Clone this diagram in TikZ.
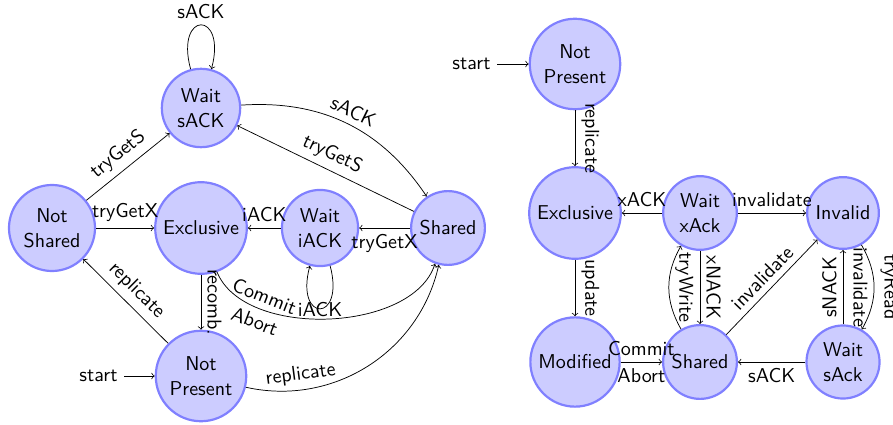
\documentclass[tikz,border=0pt]{standalone}
\usepackage{fontspec}
\usetikzlibrary{arrows}
\begin{document}
\begin{tikzpicture}[x=0.5464pt, y=-0.5464pt,
  font=\fontsize{10.95}{13.6}\selectfont\sffamily,
  fsm/.style={circle, draw=blue!50, very thick, fill=blue!20, align=center, inner sep=.3333em},
  trans/.style={->},
  vlab/.style={midway, anchor=south, rotate=-90},
  vlabin/.style={midway, anchor=north, rotate=-90},
  vlabup/.style={midway, anchor=south, rotate=90}]
\useasboundingbox (0,0) rectangle (893,425);

% ---- left automaton ----
\node[fsm] (NS) at (52,228)  {Not\\Shared};
\node[fsm] (WS) at (201,108) {Wait\\sACK};
\node[fsm] (EX) at (201,228) {Exclusive};
\node[fsm] (WI) at (320,228) {Wait\\iACK};
\node[fsm] (SH) at (448,228) {Shared};
\node[fsm] (NP) at (201,376) {Not\\Present};
\node[anchor=east] (st1) at (124,376) {start};

\draw[trans] (st1) -- (NP);
\draw[trans] (NS) -- node[sloped, above] {tryGetS} (WS);
\draw[trans] (NS) -- node[above] {tryGetX} (EX);
\draw[trans] (WS) to[loop above, looseness=7.5] node[above] {sACK} (WS);
\draw[trans] (WS) to[bend left=30] node[sloped, above] {sACK} (SH);
\draw[trans] (SH) -- node[sloped, above] {tryGetS} (WS);
\draw[trans] (WI) -- node[above] {iACK} (EX);
\draw[trans] (SH) -- node[below] {tryGetX} (WI);
\draw[trans] (WI) to[loop below, looseness=7.5, min distance=2mm]
  node[below, inner sep=1pt, yshift=4.5pt] {iACK} (WI);
\draw[trans] (EX) -- node[vlab] {recomb.} (NP);
\draw[trans] (NP) -- node[sloped, above] {replicate} (NS);
\draw[trans] (NP) to[bend right=45] node[sloped, above, pos=0.22] {replicate} (SH);
\draw[trans] (EX) to[bend right=70, looseness=0.85]
  node[sloped, above, pos=0.25] {Commit}
  node[sloped, below, pos=0.25] {Abort} (SH);

% ---- right automaton ----
\node[fsm] (NP2) at (575,64)  {Not\\Present};
\node[fsm] (EX2) at (575,213) {Exclusive};
\node[fsm] (WX)  at (700,213) {Wait\\xAck};
\node[fsm] (IN)  at (843,213) {Invalid};
\node[fsm] (MO)  at (575,362) {Modified};
\node[fsm] (SH2) at (700,362) {Shared};
\node[fsm] (WSA) at (843,362) {Wait\\sAck};
\node[anchor=east] (st2) at (497,64) {start};

\draw[trans] (st2) -- (NP2);
\draw[trans] (NP2) -- node[vlab] {replicate} (EX2);
\draw[trans] (EX2) -- node[vlab] {update} (MO);
\draw[trans] (WX) -- node[above] {xACK} (EX2);
\draw[trans] (WX) -- node[above] {invalidate} (IN);
\draw[trans] (WX) -- node[vlab] {xNACK} (SH2);
\draw[trans] (SH2) to[bend left=30] node[vlab] {tryWrite} (WX);
\draw[trans] (SH2) -- node[sloped, above] {invalidate} (IN);
\draw[trans] (WSA) -- node[vlabup] {sNACK} (IN);
\draw[trans] (IN) to[bend left=30]
  node[vlab] {tryRead}
  node[vlabin] {invalidate} (WSA);
\draw[trans] (WSA) -- node[below] {sACK} (SH2);
\draw[trans] (MO) -- node[above] {Commit} node[below] {Abort} (SH2);
\end{tikzpicture}
\end{document}
